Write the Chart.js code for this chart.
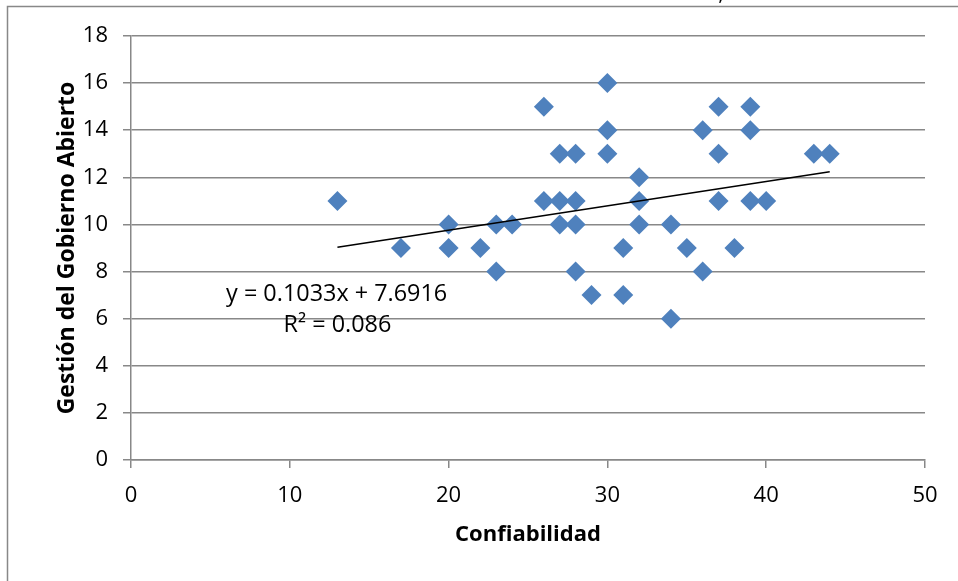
<!DOCTYPE html>
<html><head><meta charset="utf-8">
<script src="https://cdn.jsdelivr.net/npm/chart.js@4"></script>
<style>html,body{margin:0;padding:0;background:#fff}#wrap{width:958px;height:581px;position:relative}</style>
</head><body><div id="wrap"><canvas id="c" width="958" height="581"></canvas></div>
<script>
// ---- data ----
const confiabilidad = [13,17,20,20,22,23,23,24,26,26,27,27,27,28,28,28,28,29,30,30,30,31,31,32,32,32,34,34,35,36,36,37,37,37,38,39,39,39,40,43,44];
const gestion       = [11, 9,10, 9, 9,10, 8,10,15,11,13,11,10,13,11,10, 8, 7,16,14,13, 9, 7,12,11,10,10, 6, 9,14, 8,15,13,11, 9,15,14,11,11,13,13];
const trendX = [13, 44];
const trendY = [9.0345, 12.2368];
const xTickValues = [0, 10, 20, 30, 40, 50];
const yTickValues = [0, 2, 4, 6, 8, 10, 12, 14, 16, 18];
const equationText = 'y = 0.1033x + 7.6916';
const r2Text = 'R² = 0.086';
const xTitle = 'Confiabilidad';
const yTitle = 'Gestión del Gobierno Abierto';

const FONT = "'Open Sans', 'Noto Sans', sans-serif";
const GRID = '#888888';

const scatterPts = confiabilidad.map((x, i) => ({x: x, y: gestion[i]}));
const trendPts = trendX.map((x, i) => ({x: x, y: trendY[i]}));

const extras = {
  id: 'extras',
  afterDraw(chart) {
    const ctx = chart.ctx;
    const xs = chart.scales.x, ys = chart.scales.y;
    ctx.save();
    // outer frame (cropped)
    ctx.strokeStyle = GRID;
    ctx.lineWidth = 1.5;
    ctx.beginPath();
    ctx.moveTo(7.5, 581);
    ctx.lineTo(7.5, 6.5);
    ctx.lineTo(958, 6.5);
    ctx.stroke();
    // cut-off character at top
    ctx.fillStyle = '#000';
    ctx.font = "22px " + FONT;
    ctx.textAlign = 'center';
    ctx.textBaseline = 'alphabetic';
    ctx.fillText(',', 721, 0);
    // trendline equation
    ctx.font = "23.4px " + FONT;
    ctx.textBaseline = 'middle';
    ctx.fillText(equationText, xs.getPixelForValue(12.95), ys.getPixelForValue(7.05));
    ctx.fillText(r2Text, xs.getPixelForValue(13.0), ys.getPixelForValue(5.7));
    ctx.restore();
  }
};

new Chart(document.getElementById('c'), {
  type: 'scatter',
  data: {
    datasets: [
      {
        type: 'line',
        label: 'Tendencia',
        data: trendPts,
        borderColor: '#000',
        borderWidth: 1.6,
        pointRadius: 0,
        fill: false,
        order: 0
      },
      {
        label: 'Gestión',
        data: scatterPts,
        pointStyle: 'rectRot',
        pointRadius: 10,
        pointHoverRadius: 10,
        backgroundColor: '#4f81bd',
        borderColor: '#4f81bd',
        borderWidth: 0,
        order: 1
      }
    ]
  },
  options: {
    responsive: false,
    devicePixelRatio: 1,
    animation: false,
    layout: {padding: {top: 36, right: 33, left: 0, bottom: 0}},
    plugins: {legend: {display: false}, tooltip: {enabled: false}},
    scales: {
      x: {
        type: 'linear',
        min: 0, max: 50,
        afterBuildTicks: s => { s.ticks = xTickValues.map(v => ({value: v})); },
        afterFit: s => { s.height = 121; },
        grid: {drawOnChartArea: false, drawTicks: true, tickLength: 8, color: GRID, lineWidth: 1.5},
        border: {color: GRID, width: 1.5},
        ticks: {color: '#000', font: {family: FONT, size: 22}, padding: 15, maxRotation: 0},
        title: {display: true, text: xTitle, color: '#000', font: {family: FONT, size: 22, weight: 'bold'}, padding: {top: 0, bottom: 33}}
      },
      y: {
        type: 'linear',
        min: 0, max: 18,
        afterBuildTicks: s => { s.ticks = yTickValues.map(v => ({value: v})); },
        afterFit: s => { s.width = 131; },
        grid: {drawOnChartArea: true, drawTicks: true, tickLength: 8, color: GRID, lineWidth: 1.5},
        border: {color: GRID, width: 1.5},
        ticks: {color: '#000', font: {family: FONT, size: 22}, padding: 15},
        title: {display: true, text: yTitle, color: '#000', font: {family: FONT, size: 23, weight: 'bold'}, padding: {top: 54, bottom: 0}}
      }
    }
  },
  plugins: [extras]
});
</script>
</body></html>
